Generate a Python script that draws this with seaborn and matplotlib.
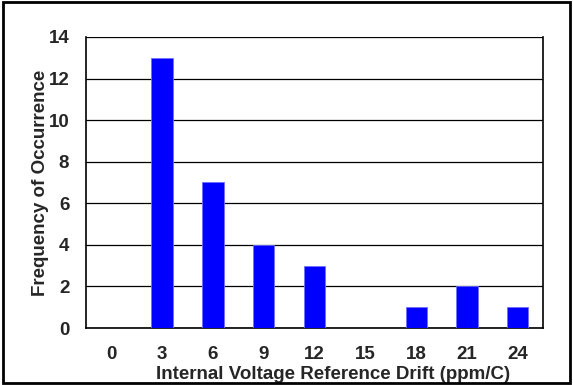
import numpy as np
import pandas as pd
import matplotlib
matplotlib.use("Agg")
import matplotlib.pyplot as plt
import seaborn as sns

drift = ["0", "3", "6", "9", "12", "15", "18", "21", "24"]
counts = [0, 13, 7, 4, 3, 0, 1, 2, 1]

df = pd.DataFrame({"drift": drift, "count": counts})

sns.set_style("white")
plt.rcParams['font.family'] = ['Liberation Sans', 'DejaVu Sans']
plt.rcParams['font.weight'] = 'bold'

fig = plt.figure(figsize=(5.73, 3.85), dpi=100)
ax = fig.add_axes([0.150, 0.148, 0.798, 0.756])

sns.barplot(data=df, x="drift", y="count", order=drift, color="#0000FF",
            saturation=1, width=0.42, edgecolor="#6f6fff", linewidth=0.6, ax=ax, zorder=3)

ax.set_ylim(0, 14)
ax.set_yticks(np.arange(0, 15, 2))
ax.set_xlim(-0.5, len(drift) - 0.5)
ax.yaxis.grid(True, color="black", linewidth=0.9)
ax.set_axisbelow(True)

fs = 13.5
# tick marks sit between categories
ax.set_xticks(np.arange(-0.5, len(drift), 1), minor=True)
ax.tick_params(axis="x", which="major", length=0, pad=13, labelsize=fs)
ax.tick_params(axis="x", which="minor", length=5, width=1, color="black", direction="out")
ax.tick_params(axis="y", length=5, width=1, color="black", direction="out", labelsize=fs, pad=7)
for lab in ax.get_xticklabels() + ax.get_yticklabels():
    lab.set_fontweight("bold")

for side in ["left", "bottom", "right"]:
    ax.spines[side].set_color("black")
    ax.spines[side].set_linewidth(1.2)
ax.spines["top"].set_visible(False)

ax.set_xlabel("Internal Voltage Reference Drift (ppm/C)", fontsize=fs, fontweight="bold")
ax.set_ylabel("Frequency of Occurrence", fontsize=fs, fontweight="bold")
ax.xaxis.set_label_coords(0.540, -0.161)
ax.xaxis.label.set_va("center")
ax.yaxis.set_label_coords(-0.100, 0.5)
ax.yaxis.label.set_va("center")

# outer frame around the whole figure
fig.patches.append(plt.Rectangle((0.005, 0.005), 0.99, 0.99, transform=fig.transFigure,
                                 fill=False, edgecolor="black", linewidth=2))

fig.savefig("out.png", dpi=100)
